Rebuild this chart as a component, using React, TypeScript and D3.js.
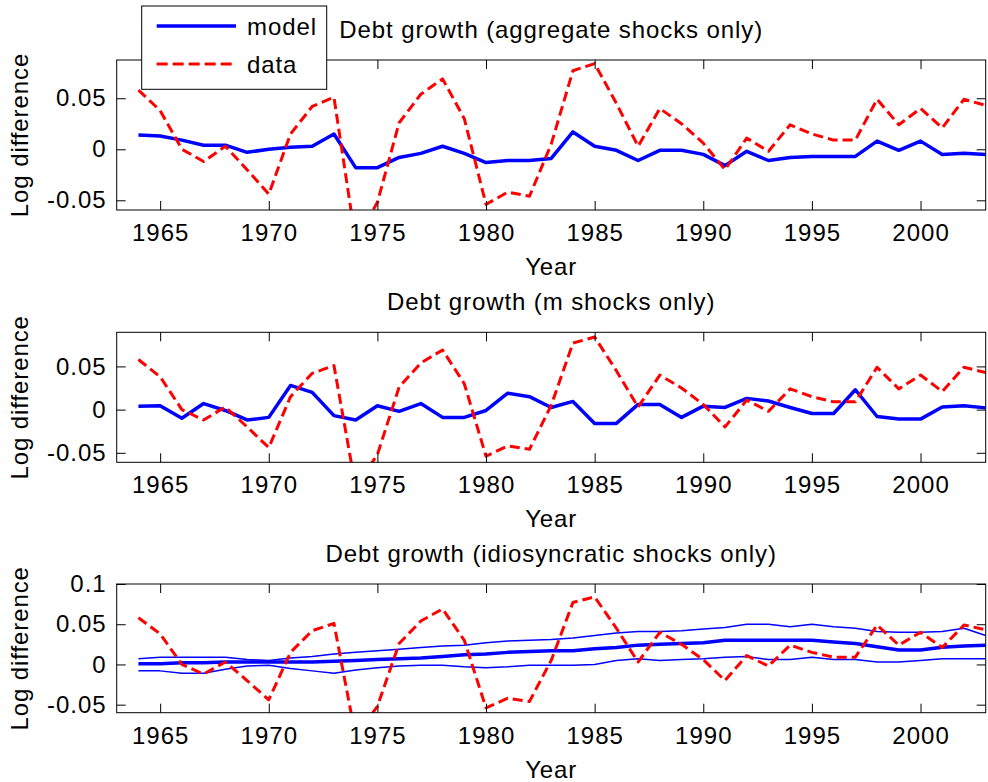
import React, { useEffect, useRef } from 'react';
import * as d3 from 'd3';

// years on the x axis
const years = [
  1964, 1965, 1966, 1967, 1968, 1969, 1970, 1971, 1972, 1973,
  1974, 1975, 1976, 1977, 1978, 1979, 1980, 1981, 1982, 1983,
  1984, 1985, 1986, 1987, 1988, 1989, 1990, 1991, 1992, 1993,
  1994, 1995, 1996, 1997, 1998, 1999, 2000, 2001, 2002, 2003,
];

// observed debt growth (same in every panel)
const dataSeries = [
  0.058, 0.038, 0.0, -0.012, 0.003, -0.02, -0.044, 0.015, 0.042, 0.051,
  -0.09, -0.052, 0.026, 0.054, 0.069, 0.03, -0.054, -0.042, -0.046, 0.005,
  0.077, 0.084, 0.045, 0.003, 0.04, 0.025, 0.006, -0.02, 0.011, -0.002,
  0.024, 0.015, 0.009, 0.009, 0.049, 0.024, 0.04, 0.021, 0.049, 0.043,
];

// model: aggregate shocks only
const modelAggregate = [
  0.014, 0.013, 0.009, 0.004, 0.004, -0.003, 0.0, 0.002, 0.003, 0.015,
  -0.018, -0.018, -0.008, -0.004, 0.003, -0.004, -0.013, -0.011, -0.011, -0.009,
  0.017, 0.003, -0.001, -0.011, -0.001, -0.001, -0.005, -0.016, -0.002, -0.011,
  -0.008, -0.007, -0.007, -0.007, 0.008, -0.001, 0.008, -0.005, -0.004, -0.005,
];

// model: m shocks only
const modelM = [
  0.004, 0.0045, -0.01, 0.007, -0.001, -0.012, -0.009, 0.028, 0.02, -0.007,
  -0.012, 0.0045, -0.002, 0.007, -0.009, -0.009, -0.001, 0.019, 0.015, 0.0025,
  0.0095, -0.016, -0.016, 0.006, 0.006, -0.009, 0.004, 0.0025, 0.013, 0.01,
  0.0025, -0.0045, -0.0045, 0.023, -0.008, -0.011, -0.011, 0.003, 0.0045, 0.002,
];

// model: idiosyncratic shocks only (mean and band)
const modelIdioMean = [
  0.001, 0.001, 0.002, 0.002, 0.003, 0.003, 0.003, 0.003, 0.003, 0.004,
  0.005, 0.006, 0.007, 0.008, 0.01, 0.012, 0.013, 0.015, 0.016, 0.017,
  0.017, 0.0195, 0.021, 0.024, 0.025, 0.026, 0.027, 0.03, 0.03, 0.03,
  0.03, 0.03, 0.028, 0.026, 0.022, 0.018, 0.018, 0.0215, 0.023, 0.024,
];
const modelIdioUpper = [
  0.007, 0.009, 0.009, 0.009, 0.009, 0.006, 0.005, 0.008, 0.01, 0.013,
  0.015, 0.017, 0.019, 0.021, 0.023, 0.024, 0.027, 0.029, 0.03, 0.031,
  0.033, 0.036, 0.039, 0.041, 0.041, 0.042, 0.044, 0.046, 0.05, 0.05,
  0.047, 0.05, 0.047, 0.045, 0.041, 0.04, 0.04, 0.041, 0.045, 0.036,
];
const modelIdioLower = [
  -0.008, -0.008, -0.011, -0.011, -0.006, -0.002, -0.001, -0.005, -0.008, -0.011,
  -0.007, -0.004, -0.002, -0.001, -0.001, -0.003, -0.004, -0.003, -0.001, -0.001,
  -0.001, 0.0, 0.005, 0.007, 0.005, 0.006, 0.007, 0.009, 0.01, 0.006,
  0.006, 0.009, 0.006, 0.006, 0.003, 0.003, 0.005, 0.007, 0.007, 0.007,
];

const xTicks = [1965, 1970, 1975, 1980, 1985, 1990, 1995, 2000];
const titles = [
  'Debt growth (aggregate shocks only)',
  'Debt growth (m shocks only)',
  'Debt growth (idiosyncratic shocks only)',
];
const legendLabels = ['model', 'data'];

const FONT = "'Liberation Sans', Arial, sans-serif";
const BLUE = '#0000ff';
const RED = '#ff0000';

const App: React.FC = () => {
  const svgRef = useRef<SVGSVGElement>(null);

  useEffect(() => {
    if (!svgRef.current) return;
    const svg = d3.select(svgRef.current);
    svg.selectAll('*').remove();

    const left = 116.7;
    const right = 985.7;
    const x = d3.scaleLinear().domain([1963, 2003]).range([left, right]);

    const panels = [
      { top: 60, bottom: 210, yDomain: [-0.0595, 0.0875], yTicks: [-0.05, 0, 0.05],
        models: [{ v: modelAggregate, w: 3.5 }] },
      { top: 332.3, bottom: 462.3, yDomain: [-0.061, 0.0895], yTicks: [-0.05, 0, 0.05],
        models: [{ v: modelM, w: 3.5 }] },
      { top: 584, bottom: 712.7, yDomain: [-0.06, 0.1], yTicks: [-0.05, 0, 0.05, 0.1],
        models: [{ v: modelIdioUpper, w: 1.5 }, { v: modelIdioLower, w: 1.5 }, { v: modelIdioMean, w: 3.5 }] },
    ];

    const tick = 9;

    panels.forEach((p, i) => {
      const y = d3.scaleLinear().domain(p.yDomain).range([p.bottom, p.top]);
      const g = svg.append('g');

      g.append('clipPath')
        .attr('id', `clip${i}`)
        .append('rect')
        .attr('x', left)
        .attr('y', p.top)
        .attr('width', right - left)
        .attr('height', p.bottom - p.top);

      const line = (vals: number[]) =>
        d3.line<number>()
          .x((_, k) => x(years[k]))
          .y(d => y(d))(vals);

      const lines = g.append('g').attr('clip-path', `url(#clip${i})`);
      p.models.forEach(m => {
        lines.append('path')
          .attr('d', line(m.v))
          .attr('fill', 'none')
          .attr('stroke', BLUE)
          .attr('stroke-width', m.w)
          .attr('stroke-linejoin', 'round');
      });
      lines.append('path')
        .attr('d', line(dataSeries))
        .attr('fill', 'none')
        .attr('stroke', RED)
        .attr('stroke-width', 3)
        .attr('stroke-linejoin', 'round')
        .attr('stroke-dasharray', '10,5');

      // axes with inward ticks on all four sides
      const styleAxis = (sel: d3.Selection<SVGGElement, unknown, null, undefined>) => {
        sel.select('.domain').remove();
        sel.attr('font-size', 24).attr('font-family', FONT).attr('letter-spacing', 1);
        sel.selectAll('line').attr('stroke', '#000');
        sel.selectAll('text').attr('fill', '#000');
      };

      g.append('g')
        .attr('transform', `translate(0,${p.bottom})`)
        .call(d3.axisBottom(x).tickValues(xTicks).tickFormat(d3.format('d')).tickSizeInner(-tick).tickSizeOuter(0).tickPadding(14))
        .call(styleAxis);
      g.append('g')
        .attr('transform', `translate(0,${p.top})`)
        .call(d3.axisTop(x).tickValues(xTicks).tickFormat(() => '').tickSizeInner(-tick).tickSizeOuter(0))
        .call(styleAxis);
      g.append('g')
        .attr('transform', `translate(${left},0)`)
        .call(d3.axisLeft(y).tickValues(p.yTicks).tickFormat(d => String(d)).tickSizeInner(-tick).tickSizeOuter(0).tickPadding(10))
        .call(styleAxis);
      g.append('g')
        .attr('transform', `translate(${right},0)`)
        .call(d3.axisRight(y).tickValues(p.yTicks).tickFormat(() => '').tickSizeInner(-tick).tickSizeOuter(0))
        .call(styleAxis);

      g.append('rect')
        .attr('x', left)
        .attr('y', p.top)
        .attr('width', right - left)
        .attr('height', p.bottom - p.top)
        .attr('fill', 'none')
        .attr('stroke', '#000')
        .attr('stroke-width', 1);

      // title, axis labels
      g.append('text')
        .attr('x', (left + right) / 2)
        .attr('y', p.top - 22)
        .attr('text-anchor', 'middle')
        .attr('font-family', FONT)
        .attr('font-size', 24)
        .attr('letter-spacing', 0.9)
        .text(titles[i]);
      g.append('text')
        .attr('x', (left + right) / 2)
        .attr('y', p.bottom + 65)
        .attr('text-anchor', 'middle')
        .attr('font-family', FONT)
        .attr('font-size', 24)
        .attr('letter-spacing', 0.9)
        .text('Year');
      g.append('text')
        .attr('transform', `translate(28,${(p.top + p.bottom) / 2}) rotate(-90)`)
        .attr('text-anchor', 'middle')
        .attr('font-family', FONT)
        .attr('font-size', 24)
        .attr('letter-spacing', 0.9)
        .text('Log difference');
    });

    // legend
    const lg = svg.append('g');
    lg.append('rect')
      .attr('x', 141.7).attr('y', 6).attr('width', 185).attr('height', 83.3)
      .attr('fill', '#fff').attr('stroke', '#000').attr('stroke-width', 1);
    const items = [
      { label: legendLabels[0], color: BLUE, dash: null, w: 3.5, y: 26 },
      { label: legendLabels[1], color: RED, dash: '11,5', w: 3, y: 64 },
    ];
    items.forEach(it => {
      lg.append('line')
        .attr('x1', 156.7).attr('x2', 236).attr('y1', it.y).attr('y2', it.y)
        .attr('stroke', it.color).attr('stroke-width', it.w)
        .attr('stroke-dasharray', it.dash);
      lg.append('text')
        .attr('x', 247).attr('y', it.y + 8.5)
        .attr('font-family', FONT).attr('font-size', 24)
        .attr('letter-spacing', 0.9)
        .text(it.label);
    });
  }, []);

  return (
    <svg
      ref={svgRef}
      width={988}
      height={782}
      style={{ position: 'absolute', left: 0, top: 0, background: '#fff' }}
    />
  );
};

export default App;
